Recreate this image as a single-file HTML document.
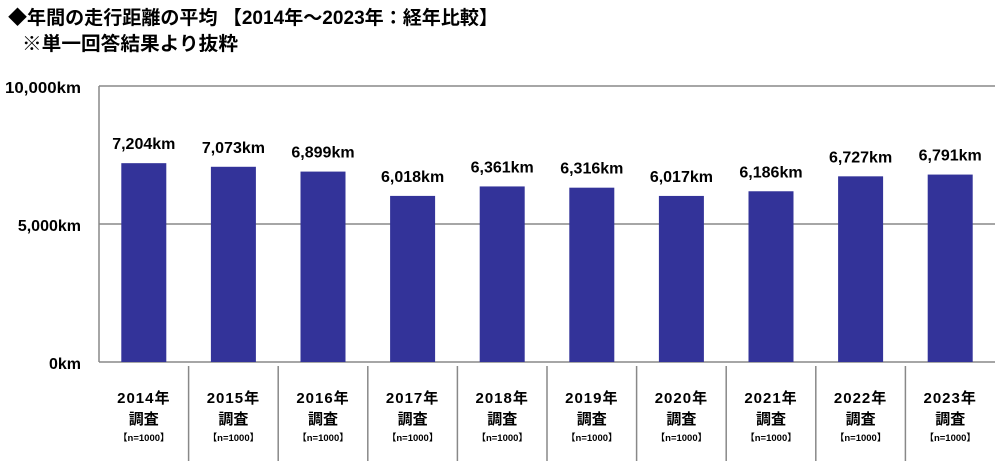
<!DOCTYPE html>
<html><head><meta charset="utf-8"><style>
body{margin:0;background:#fff;}
svg text{font-family:"Liberation Sans","Noto Sans CJK JP",sans-serif;font-weight:bold;fill:#000;}
</style></head><body>
<svg width="1000" height="461" xmlns="http://www.w3.org/2000/svg">
<text x="8" y="24" font-size="19" textLength="490" lengthAdjust="spacingAndGlyphs">◆年間の走行距離の平均 【2014年～2023年：経年比較】</text>
<text x="22" y="50" font-size="19" textLength="216" lengthAdjust="spacingAndGlyphs">※単一回答結果より抜粋</text>
<line x1="99" y1="86" x2="995" y2="86" stroke="#888" stroke-width="1.5"/>
<line x1="99" y1="224" x2="995" y2="224" stroke="#888" stroke-width="1.5"/>
<line x1="99" y1="86" x2="99" y2="362" stroke="#888" stroke-width="1.5"/>
<line x1="99" y1="362" x2="995" y2="362" stroke="#888" stroke-width="1.5"/>
<text x="81" y="93" font-size="16" text-anchor="end" textLength="76" lengthAdjust="spacingAndGlyphs">10,000km</text>
<text x="81" y="231" font-size="16" text-anchor="end">5,000km</text>
<text x="81" y="369" font-size="16" text-anchor="end">0km</text>
<g id="bars"></g>
</svg>
<script>
(function(){
var v=[7204,7073,6899,6018,6361,6316,6017,6186,6727,6791];
var g=document.getElementById('bars'),s="";
for(var i=0;i<10;i++){
 var cx=99+89.6*(i+0.5),h=v[i]/10000*276,yt=362-h;
 s+='<rect x="'+(cx-22.5)+'" y="'+yt+'" width="45" height="'+h+'" fill="#333399"/>';
 s+='<text x="'+cx+'" y="'+(yt-14)+'" font-size="16" text-anchor="middle">'+v[i].toLocaleString('en-US')+'km</text>';
 s+='<text x="'+cx+'" y="403" font-size="15" text-anchor="middle" letter-spacing="1">'+(2014+i)+'年</text>';
 s+='<text x="'+cx+'" y="424" font-size="15" text-anchor="middle">調査</text>';
 s+='<text x="'+cx+'" y="441" font-size="9.5" text-anchor="middle">【n=1000】</text>';
 if(i>0){var dx=99+89.6*i;s+='<line x1="'+dx+'" y1="366" x2="'+dx+'" y2="461" stroke="#888" stroke-width="1.5"/>';}
}
g.innerHTML=s;
})();
</script>
</body></html>
